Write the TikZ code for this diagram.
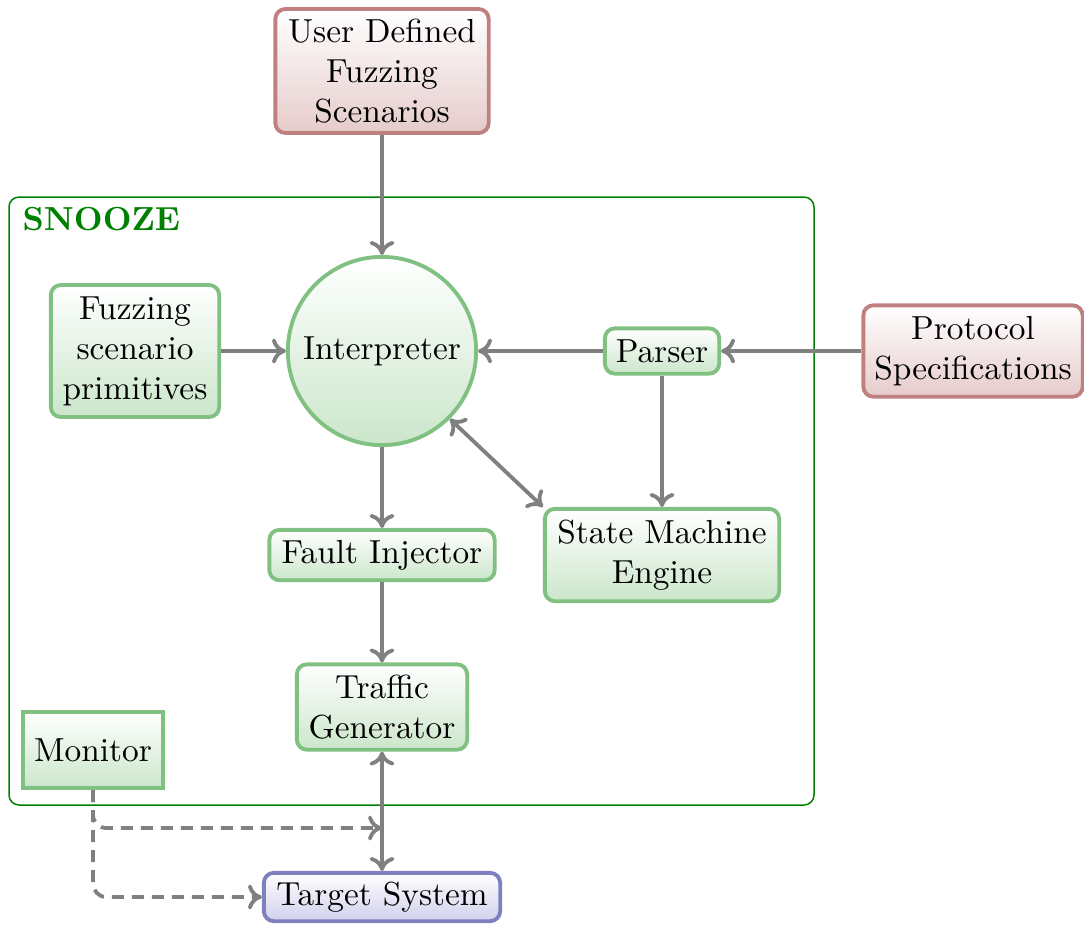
\documentclass[tikz,border=0pt]{standalone}
\usetikzlibrary{arrows.meta}
\definecolor{grnline}{RGB}{128,192,128}
\definecolor{grnfill}{RGB}{203,230,203}
\definecolor{redline}{RGB}{192,128,128}
\definecolor{redfill}{RGB}{230,203,203}
\definecolor{bluline}{RGB}{128,128,192}
\definecolor{blufill}{RGB}{208,208,236}
\definecolor{snoozegreen}{RGB}{0,128,0}
\definecolor{wire}{RGB}{128,128,128}
\begin{document}
\begin{tikzpicture}[x=0.3pt,y=-0.3pt,
  box/.style={draw, line width=1.15pt, rounded corners=3pt, align=center,
    inner sep=1pt, top color=white},
  gbox/.style={box, draw=grnline, bottom color=grnfill},
  rbox/.style={box, draw=redline, bottom color=redfill},
  bbox/.style={box, draw=bluline, bottom color=blufill},
  link/.style={draw=wire, line width=1.15pt, -{To[length=4.2pt,width=7.5pt]}},
  duallink/.style={link, {To[length=4.2pt,width=7.5pt]}-{To[length=4.2pt,width=7.5pt]}},
  dashlink/.style={link, dash pattern=on 3.6pt off 2.4pt, rounded corners=4pt},
]
\useasboundingbox (0,0) rectangle (1084,925);

% SNOOZE frame
\draw[snoozegreen, line width=0.45pt, rounded corners=3pt] (9,197) rectangle (814,805);
\node[anchor=north west, inner sep=0pt, text=snoozegreen, font=\bfseries] (title) at (22,207) {SNOOZE};

% nodes
\node[rbox, minimum width=64pt, minimum height=37.2pt] (user) at (382,71)
  {User Defined\\Fuzzing\\Scenarios};
\node[circle, draw=grnline, line width=1.15pt, top color=white, bottom color=grnfill,
  minimum size=56.5pt, inner sep=0pt] (interp) at (382,351) {Interpreter};
\node[gbox, minimum width=50.5pt, minimum height=39.6pt] (prims) at (135,351)
  {Fuzzing\\scenario\\primitives};
\node[gbox, minimum width=34.3pt, minimum height=13.6pt] (parser) at (662,351) {Parser};
\node[rbox, minimum width=65.8pt, minimum height=27.4pt] (proto) at (973,351)
  {Protocol\\Specifications};
\node[gbox, minimum width=67.6pt, minimum height=15.1pt] (fault) at (382,555) {Fault Injector};
\node[gbox, minimum width=70.3pt, minimum height=27.7pt] (sme) at (662,555)
  {State Machine\\Engine};
\node[gbox, minimum width=51.1pt, minimum height=25.6pt] (traffic) at (382,707)
  {Traffic\\Generator};
\node[gbox, rounded corners=0pt, minimum width=42.1pt, minimum height=22.9pt] (monitor) at (93,750)
  {Monitor};
\node[bbox, minimum width=70.9pt, minimum height=14.5pt] (target) at (382,897) {Target System};

\coordinate (tap) at (382,828);

% connectors
\draw[link] (user) -- (interp);
\draw[link] (prims) -- (interp);
\draw[link] (parser) -- (interp);
\draw[link] (proto) -- (parser);
\draw[link] (parser) -- (sme);
\draw[duallink] (interp.-45) -- (sme.north west);
\draw[link] (interp) -- (fault);
\draw[link] (fault) -- (traffic);
\draw[duallink] (traffic) -- (target);
\draw[dashlink] (monitor.south) |- (tap);
\draw[dashlink] (monitor.south) |- (target.west);
\end{tikzpicture}
\end{document}
